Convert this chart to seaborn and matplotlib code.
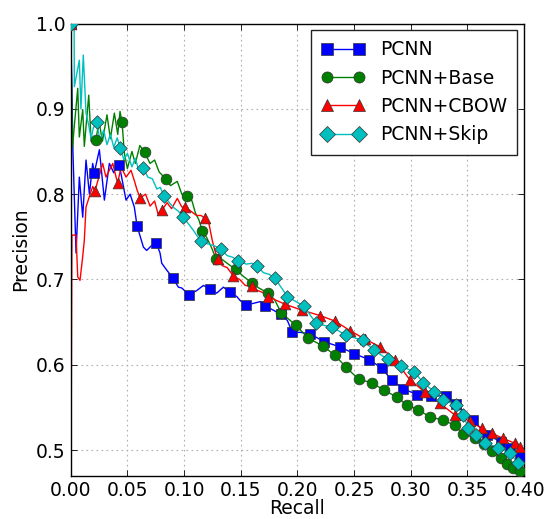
import seaborn as sns
import matplotlib.pyplot as plt
import pandas as pd
from matplotlib.lines import Line2D

# ---- data ----
# marker points of each curve
pcnn_mark_recall = [0.0, 0.0208, 0.0429, 0.0585, 0.0755, 0.0900, 0.1044, 0.1230, 0.1406, 0.1547,
                    0.1714, 0.1856, 0.1955, 0.2114, 0.2237, 0.2376, 0.2500, 0.2635, 0.2744, 0.2832,
                    0.2935, 0.3053, 0.3180, 0.3312, 0.3400, 0.3547, 0.3676, 0.3794, 0.3876, 0.3960]
pcnn_mark_precision = [1.0, 0.825, 0.834, 0.763, 0.743, 0.702, 0.682, 0.689, 0.685, 0.670,
                       0.669, 0.659, 0.638, 0.636, 0.627, 0.621, 0.613, 0.606, 0.596, 0.582,
                       0.572, 0.565, 0.563, 0.564, 0.554, 0.535, 0.518, 0.510, 0.502, 0.492]
# extra line vertices between markers (the jagged parts)
pcnn_recall = [0.002, 0.0047, 0.0076, 0.0106, 0.0135, 0.0165, 0.0194, 0.0253, 0.0297, 0.0341,
               0.0380, 0.0415, 0.0488, 0.0524, 0.0561, 0.0641, 0.0670, 0.0715, 0.0788, 0.0803,
               0.0847, 0.0950, 0.0980, 0.1112, 0.1170, 0.1288, 0.1347, 0.1465, 0.1497, 0.1611,
               0.1670, 0.1788, 0.1911, 0.2030, 0.4000]
pcnn_precision = [0.848, 0.731, 0.820, 0.773, 0.840, 0.800, 0.836, 0.852, 0.793, 0.836,
                  0.825, 0.837, 0.793, 0.800, 0.785, 0.738, 0.734, 0.740, 0.731, 0.719,
                  0.711, 0.691, 0.690, 0.687, 0.693, 0.684, 0.691, 0.680, 0.675, 0.672,
                  0.674, 0.664, 0.652, 0.638, 0.484]

base_mark_recall = [0.0, 0.0221, 0.0453, 0.0651, 0.0837, 0.1026, 0.1161, 0.1282, 0.1455, 0.1597,
                    0.1744, 0.1856, 0.1985, 0.2097, 0.2227, 0.2332, 0.2430, 0.2540, 0.2656, 0.2767,
                    0.2880, 0.2965, 0.3067, 0.3170, 0.3288, 0.3390, 0.3460, 0.3570, 0.3650, 0.3715,
                    0.3800, 0.3850, 0.3900, 0.3960]
base_mark_precision = [1.0, 0.863, 0.884, 0.849, 0.818, 0.798, 0.757, 0.7245, 0.712, 0.696,
                       0.684, 0.661, 0.6465, 0.631, 0.622, 0.611, 0.597, 0.583, 0.579, 0.570,
                       0.562, 0.553, 0.547, 0.539, 0.535, 0.529, 0.519, 0.514, 0.507, 0.499,
                       0.491, 0.484, 0.479, 0.475]
base_recall = [0.0015, 0.0062, 0.0076, 0.0106, 0.0120, 0.0159, 0.0180, 0.0250, 0.0280, 0.0320,
               0.0350, 0.0385, 0.0415, 0.0435, 0.0473, 0.0500, 0.0540, 0.0570, 0.0610, 0.0700,
               0.0740, 0.0780, 0.0880, 0.0940, 0.0980, 0.1070, 0.1100, 0.1130, 0.1200, 0.1240,
               0.1340, 0.1400, 0.1520, 0.1660, 0.1800, 0.4000]
base_precision = [0.855, 0.924, 0.867, 0.899, 0.856, 0.916, 0.862, 0.885, 0.862, 0.893,
                  0.865, 0.895, 0.870, 0.897, 0.848, 0.830, 0.850, 0.836, 0.857, 0.836,
                  0.840, 0.826, 0.810, 0.815, 0.800, 0.792, 0.778, 0.770, 0.749, 0.738,
                  0.723, 0.717, 0.704, 0.690, 0.676, 0.473]

cbow_mark_recall = [0.0, 0.0214, 0.0415, 0.0613, 0.0803, 0.1011, 0.1185, 0.1295, 0.1435, 0.1595,
                    0.1744, 0.1890, 0.2040, 0.2200, 0.2332, 0.2465, 0.2597, 0.2730, 0.2862, 0.2994,
                    0.3126, 0.3259, 0.3390, 0.3523, 0.3627, 0.3715, 0.3817, 0.3920, 0.3965]
cbow_mark_precision = [1.0, 0.8036, 0.813, 0.7954, 0.781, 0.7846, 0.7716, 0.7239, 0.704, 0.6923,
                       0.6797, 0.671, 0.664, 0.6577, 0.6512, 0.640, 0.630, 0.621, 0.6055, 0.582,
                       0.568, 0.5547, 0.541, 0.534, 0.5254, 0.5196, 0.5137, 0.5079, 0.504]
cbow_recall = [0.0005, 0.0010, 0.0047, 0.0062, 0.0082, 0.0106, 0.0120, 0.0135, 0.0194, 0.0282,
               0.0311, 0.0371, 0.0400, 0.0444, 0.0488, 0.0532, 0.0561, 0.0585, 0.0660, 0.0700,
               0.0740, 0.0770, 0.0850, 0.0890, 0.0940, 0.0980, 0.1060, 0.1110, 0.1150, 0.1220,
               0.1250, 0.1270, 0.1340, 0.1380, 0.1490, 0.1540, 0.1650, 0.1690, 0.4000]
cbow_precision = [0.557, 0.752, 0.752, 0.703, 0.699, 0.727, 0.746, 0.785, 0.809, 0.836,
                  0.820, 0.836, 0.820, 0.832, 0.820, 0.828, 0.816, 0.805, 0.800, 0.786,
                  0.792, 0.777, 0.790, 0.783, 0.795, 0.785, 0.780, 0.775, 0.775, 0.765,
                  0.745, 0.735, 0.716, 0.714, 0.700, 0.693, 0.687, 0.685, 0.501]

skip_mark_recall = [0.0, 0.0229, 0.0438, 0.0641, 0.0823, 0.0993, 0.1150, 0.1322, 0.1479, 0.1646,
                    0.1803, 0.1911, 0.2059, 0.2165, 0.2306, 0.2431, 0.2575, 0.2676, 0.2797, 0.2912,
                    0.3029, 0.3111, 0.3208, 0.3288, 0.3400, 0.3464, 0.3508, 0.3576, 0.3656, 0.3773,
                    0.3876, 0.3950]
skip_mark_precision = [1.0, 0.884, 0.854, 0.8306, 0.798, 0.773, 0.7454, 0.7357, 0.7216, 0.7154,
                       0.7013, 0.680, 0.6685, 0.6485, 0.644, 0.6346, 0.6286, 0.617, 0.6063, 0.5985,
                       0.5918, 0.5789, 0.5683, 0.5586, 0.5528, 0.541, 0.5254, 0.5176, 0.5079, 0.503,
                       0.4961, 0.4844]
skip_recall = [0.0030, 0.0032, 0.0076, 0.0090, 0.0111, 0.0135, 0.0160, 0.0180, 0.0200, 0.0260,
               0.0290, 0.0320, 0.0350, 0.0380, 0.0410, 0.0470, 0.0500, 0.0540, 0.0570, 0.0600,
               0.0680, 0.0720, 0.0760, 0.0790, 0.0870, 0.0910, 0.0950, 0.1040, 0.1080, 0.1110,
               0.1200, 0.1260, 0.1380, 0.1430, 0.1550, 0.1600, 0.1700, 0.1750, 0.4000]
skip_precision = [1.0, 0.926, 0.957, 0.900, 0.963, 0.895, 0.880, 0.865, 0.878, 0.862,
                  0.875, 0.858, 0.870, 0.855, 0.866, 0.840, 0.848, 0.832, 0.842, 0.828,
                  0.820, 0.818, 0.806, 0.808, 0.790, 0.784, 0.780, 0.765, 0.758, 0.752,
                  0.742, 0.740, 0.728, 0.726, 0.718, 0.719, 0.708, 0.706, 0.478]

series = [
    ("PCNN", "b", "s", pcnn_recall, pcnn_precision, pcnn_mark_recall, pcnn_mark_precision),
    ("PCNN+Base", "g", "o", base_recall, base_precision, base_mark_recall, base_mark_precision),
    ("PCNN+CBOW", "r", "^", cbow_recall, cbow_precision, cbow_mark_recall, cbow_mark_precision),
    ("PCNN+Skip", "c", "D", skip_recall, skip_precision, skip_mark_recall, skip_mark_precision),
]

sns.set_style("ticks")
plt.rcParams["font.family"] = ["DejaVu Sans"]
plt.rcParams["font.size"] = 13.5
plt.rcParams["xtick.direction"] = "in"
plt.rcParams["ytick.direction"] = "in"
plt.rcParams["xtick.top"] = True
plt.rcParams["ytick.right"] = True
plt.rcParams["axes.edgecolor"] = "black"
plt.rcParams["xtick.color"] = "black"
plt.rcParams["ytick.color"] = "black"
plt.rcParams["text.color"] = "black"
plt.rcParams["axes.labelcolor"] = "black"

fig = plt.figure(figsize=(5.46, 5.19), dpi=100)
ax = fig.add_axes([0.1295, 0.0834, 0.8305, 0.8713])

sizes = {"s": 50, "o": 60, "^": 60, "D": 48}
handles = []
for name, col, mk, lx, ly, mx, my in series:
    line = pd.concat([pd.DataFrame({"recall": lx, "precision": ly}),
                      pd.DataFrame({"recall": mx, "precision": my})])
    line = line.sort_values("recall", kind="stable")
    sns.lineplot(data=line, x="recall", y="precision", sort=False, estimator=None,
                 color=col, lw=1.0, ax=ax, zorder=2)
    marks = pd.DataFrame({"recall": mx, "precision": my})
    sns.scatterplot(data=marks, x="recall", y="precision", marker=mk, color=col,
                    s=sizes[mk], edgecolor="#333333", linewidth=0.5, ax=ax, zorder=3)
    handles.append(Line2D([0], [0], color=col, marker=mk, markersize=8,
                          markeredgecolor="#333333", markeredgewidth=0.5, lw=1.0))

ax.set_xlim(0, 0.40)
ax.set_ylim(0.47, 1.0)
ax.set_xticks([0.0, 0.05, 0.10, 0.15, 0.20, 0.25, 0.30, 0.35, 0.40])
ax.set_xticklabels(["0.00", "0.05", "0.10", "0.15", "0.20", "0.25", "0.30", "0.35", "0.40"])
ax.set_yticks([0.5, 0.6, 0.7, 0.8, 0.9, 1.0])
ax.set_yticklabels(["0.5", "0.6", "0.7", "0.8", "0.9", "1.0"])
ax.tick_params(which="major", length=4, width=0.6, labelsize=13.5, pad=4)
ax.grid(True, color="#b0b0b0", linestyle=(0, (1.5, 3)), linewidth=0.8)
for sp in ax.spines.values():
    sp.set_linewidth(1.0)
    sp.set_color("black")
ax.set_xlabel("Recall", fontsize=13.5, labelpad=-1)
ax.set_ylabel("Precision", fontsize=13.5, labelpad=4)

leg = ax.legend(handles, [s[0] for s in series], loc="upper right",
                bbox_to_anchor=(0.985, 0.986), borderaxespad=0, numpoints=2,
                fancybox=False, framealpha=1, edgecolor="#222222", fontsize=13.5,
                handlelength=2.3, handletextpad=0.8, labelspacing=0.5, borderpad=0.55)
leg.get_frame().set_linewidth(1.0)

fig.savefig("out.png", dpi=100, facecolor="white")
